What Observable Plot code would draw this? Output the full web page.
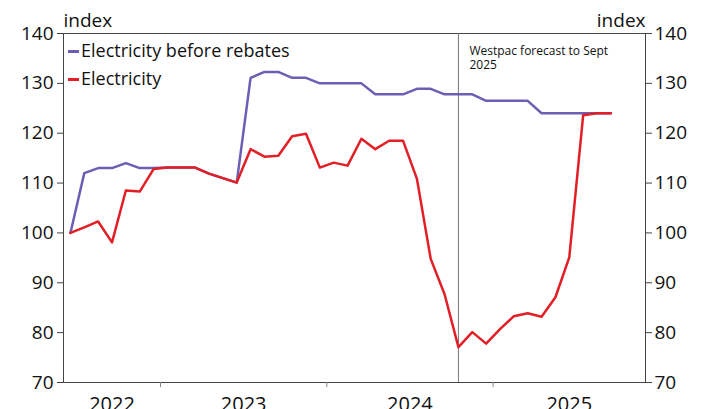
<!DOCTYPE html>
<html>
<head>
<meta charset="utf-8">
<script src="https://cdn.jsdelivr.net/npm/d3@7"></script>
<script src="https://cdn.jsdelivr.net/npm/@observablehq/plot@0.6"></script>
<style>
  body { margin: 0; background: #fff; font-family: "Open Sans", sans-serif; }
  #wrap { position: relative; width: 703px; height: 409px; overflow: hidden; }
  #legend { position: absolute; left: 68px; top: 36px; font-size: 18px; color: #111; line-height: 28px; }
  #legend .sw { display: inline-block; width: 11px; height: 3px; vertical-align: middle; margin-right: 2px; position: relative; top: -1px; }
</style>
</head>
<body>
<div id="wrap"></div>
<script>
const months = ["2022-06","2022-07","2022-08","2022-09","2022-10","2022-11","2022-12",
  "2023-01","2023-02","2023-03","2023-04","2023-05","2023-06","2023-07","2023-08","2023-09","2023-10","2023-11","2023-12",
  "2024-01","2024-02","2024-03","2024-04","2024-05","2024-06","2024-07","2024-08","2024-09","2024-10","2024-11","2024-12",
  "2025-01","2025-02","2025-03","2025-04","2025-05","2025-06","2025-07","2025-08","2025-09"];
const beforeRebates = [100, 112, 113, 113, 114, 113, 113, 113.1, 113.1, 113.1,
  111.9, 111.0, 110.1, 131.1, 132.3, 132.3, 131.1, 131.1, 130, 130,
  130, 130, 127.8, 127.8, 127.8, 128.9, 128.9, 127.8, 127.8, 127.8,
  126.5, 126.5, 126.5, 126.5, 124, 124, 124, 124, 124, 124];
const electricity = [100, 101.1, 102.3, 98.1, 108.5, 108.3, 112.8, 113.1, 113.1, 113.1,
  111.9, 111.0, 110.1, 116.8, 115.3, 115.5, 119.4, 119.9, 113.1, 114.1,
  113.5, 118.9, 116.8, 118.5, 118.5, 110.9, 94.8, 87.7, 77.1, 80.1,
  77.8, 80.7, 83.3, 83.9, 83.2, 87.1, 95.1, 123.6, 124.0, 124.0];
const seriesNames = ["Electricity before rebates", "Electricity"];
const seriesColors = ["#6a5fb4", "#e21f26"];
const yTicks = [70, 80, 90, 100, 110, 120, 130, 140];
const yearLabels = ["2022", "2023", "2024", "2025"];
const axisStart = "2022-06";
const axisEnd = "2025-12";
const forecastStart = "2024-10";
const forecastNote = "Westpac forecast to Sept\n2025";
const axisLabel = "index";

function monthIndex(m) {
  const [y, mo] = m.split("-").map(Number);
  const [y0, m0] = axisStart.split("-").map(Number);
  return (y - y0) * 12 + (mo - m0);
}
const xMax = monthIndex(axisEnd);
const pos = m => monthIndex(m) + 0.5;

const rows = [];
months.forEach((m, i) => rows.push({x: pos(m), y: beforeRebates[i], s: seriesNames[0]}));
months.forEach((m, i) => rows.push({x: pos(m), y: electricity[i], s: seriesNames[1]}));

const yearTicks = yearLabels.slice(1).map(y => monthIndex(y + "-01"));
const yearPos = yearLabels.map(y => {
  const a = Math.max(0, monthIndex(y + "-01"));
  const b = Math.min(xMax, monthIndex((+y + 1) + "-01"));
  return {x: (a + b) / 2, label: y};
});

const FS = 19;
const chart = Plot.plot({
  width: 703,
  height: 409,
  marginLeft: 63,
  marginRight: 58,
  marginTop: 33,
  marginBottom: 27,
  style: {fontFamily: "Open Sans, sans-serif", color: "#111", background: "#fff"},
  x: {domain: [0, xMax]},
  y: {domain: [70, 140]},
  color: {domain: seriesNames, range: seriesColors},
  marks: [
    Plot.frame({stroke: "#444", strokeWidth: 1}),
    Plot.axisY(yTicks, {anchor: "left", tickSize: 6, tickPadding: 4, fontSize: FS, label: null, stroke: "#444"}),
    Plot.axisY(yTicks, {anchor: "right", tickSize: 6, tickPadding: 3, fontSize: FS, label: null, stroke: "#444"}),
    Plot.axisX(yearTicks, {anchor: "bottom", tickSize: 5, tickFormat: () => "", label: null, stroke: "#888"}),
    Plot.text(yearPos, {x: "x", text: "label", frameAnchor: "bottom", lineAnchor: "top", dy: 14, fontSize: FS + 1, fill: "#111"}),
    Plot.text([axisLabel], {frameAnchor: "top-left", textAnchor: "start", lineAnchor: "bottom", dy: -7, fontSize: FS, fill: "#111"}),
    Plot.text([axisLabel], {frameAnchor: "top-right", textAnchor: "end", lineAnchor: "bottom", dy: -7, fontSize: FS, fill: "#111"}),
    Plot.ruleX([pos(forecastStart)], {stroke: "#777", strokeWidth: 1}),
    Plot.text([forecastNote], {x: pos(forecastStart), frameAnchor: "top", textAnchor: "start", lineAnchor: "top", dx: 11, dy: 12, fontSize: 12, lineHeight: 1.15, fill: "#111"}),
    Plot.line(rows, {x: "x", y: "y", z: "s", stroke: "s", strokeWidth: 2.5, strokeLinejoin: "round"})
  ]
});
const wrap = document.getElementById("wrap");
wrap.appendChild(chart);
const legend = document.createElement("div");
legend.id = "legend";
legend.innerHTML = seriesNames.map((n, i) =>
  `<div><span class="sw" style="background:${seriesColors[i]}"></span>${n}</div>`).join("");
wrap.appendChild(legend);
</script>
</body>
</html>
